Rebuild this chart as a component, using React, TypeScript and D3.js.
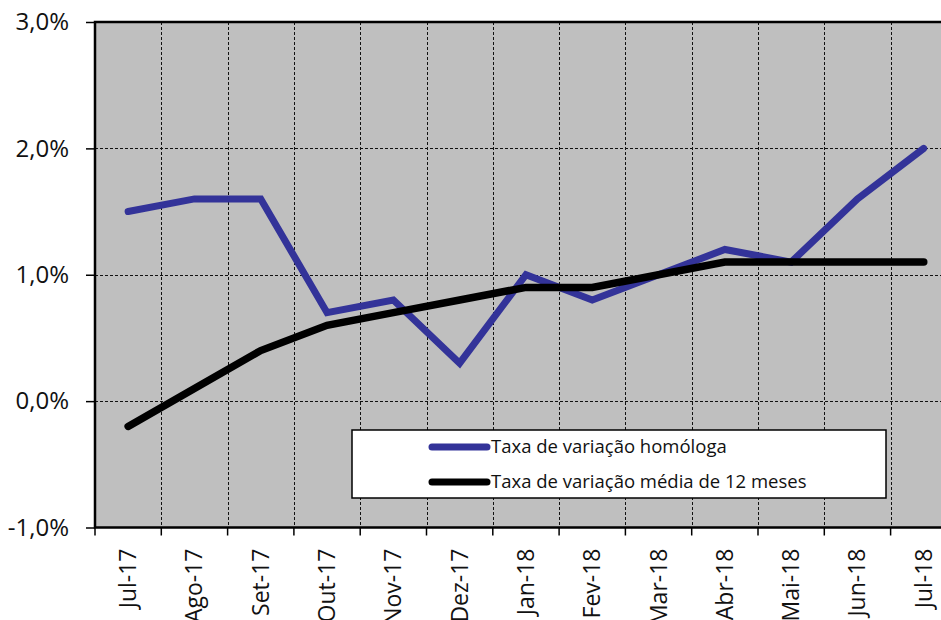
import * as d3 from 'd3';
import { useEffect, useRef } from 'react';

const months = ['Jul-17', 'Ago-17', 'Set-17', 'Out-17', 'Nov-17', 'Dez-17', 'Jan-18', 'Fev-18', 'Mar-18', 'Abr-18', 'Mai-18', 'Jun-18', 'Jul-18'];
const homologa = [1.5, 1.6, 1.6, 0.7, 0.8, 0.3, 1.0, 0.8, 1.0, 1.2, 1.1, 1.6, 2.0];
const media12 = [-0.2, 0.1, 0.4, 0.6, 0.7, 0.8, 0.9, 0.9, 1.0, 1.1, 1.1, 1.1, 1.1];
const yTicks = [-1, 0, 1, 2, 3];
const seriesNames = ['Taxa de variação homóloga', 'Taxa de variação média de 12 meses'];

const W = 941;
const H = 620;
const FONT = '"Open Sans", Lato, sans-serif';

const App = () => {
  const ref = useRef<SVGSVGElement>(null);

  useEffect(() => {
    const svg = d3.select(ref.current);
    svg.selectAll('*').remove();

    const left = 95;
    const top = 22;
    const bottom = 527.5;
    const band = 66.3;

    const x = d3.scaleBand<string>().domain(months).range([left, left + band * months.length]).padding(0);
    const y = d3.scaleLinear().domain([-1, 3]).range([bottom, top]);
    const right = left + band * months.length;

    // plot background
    svg.append('rect')
      .attr('x', left).attr('y', top)
      .attr('width', right - left).attr('height', bottom - top)
      .attr('fill', '#bfbfbf');

    // grid
    const grid = svg.append('g').attr('stroke', '#111').attr('stroke-width', 1).attr('stroke-dasharray', '3,2');
    months.slice(1).forEach((m) => {
      const gx = Math.round(x(m) as number) + 0.5;
      grid.append('line').attr('x1', gx).attr('x2', gx).attr('y1', top).attr('y2', bottom);
    });
    yTicks.slice(1, -1).forEach((t) => {
      const gy = Math.round(y(t)) + 0.5;
      grid.append('line').attr('x1', left).attr('x2', right).attr('y1', gy).attr('y2', gy);
    });

    // axes (hyphen minus, comma decimal)
    const yAxis = d3.axisLeft(y).tickValues(yTicks).tickSize(9).tickPadding(17)
      .tickFormat((d) => (d as number).toFixed(1).replace('.', ',') + '%');
    const ya = svg.append('g').attr('transform', `translate(${left},0)`).call(yAxis);
    ya.select('.domain').remove();
    ya.selectAll('line').attr('stroke', '#000').attr('stroke-width', 1.5);
    ya.selectAll('text').attr('font-family', FONT).attr('font-size', 24).attr('fill', '#111');

    const xa = svg.append('g').attr('transform', `translate(0,${bottom})`);
    months.forEach((m) => {
      const tx = x(m) as number;
      xa.append('line').attr('x1', tx).attr('x2', tx).attr('y1', 0).attr('y2', 8).attr('stroke', '#000').attr('stroke-width', 1.5);
    });
    xa.selectAll('text.lbl')
      .data(months)
      .enter()
      .append('text')
      .attr('class', 'lbl')
      .attr('transform', (d) => `translate(${(x(d) as number) + band / 2 + 8},21) rotate(-90)`)
      .attr('text-anchor', 'end')
      .attr('font-family', FONT)
      .attr('font-size', 23)
      .attr('fill', '#111')
      .text((d) => d);

    // plot border (left, top, bottom)
    svg.append('path')
      .attr('d', `M${right},${top}H${left}V${bottom}H${right}`)
      .attr('fill', 'none').attr('stroke', '#000').attr('stroke-width', 2.5);

    // lines
    const line = d3.line<number>()
      .x((_, i) => (x(months[i]) as number) + band / 2)
      .y((d) => y(d));

    svg.append('path').datum(homologa).attr('d', line)
      .attr('fill', 'none').attr('stroke', '#333399').attr('stroke-width', 7)
      .attr('stroke-linejoin', 'miter').attr('stroke-linecap', 'round');
    svg.append('path').datum(media12).attr('d', line)
      .attr('fill', 'none').attr('stroke', '#000').attr('stroke-width', 7.5)
      .attr('stroke-linejoin', 'miter').attr('stroke-linecap', 'round');

    // legend
    const lg = svg.append('g');
    lg.append('rect').attr('x', 352).attr('y', 430).attr('width', 534).attr('height', 68)
      .attr('fill', '#fff').attr('stroke', '#000').attr('stroke-width', 1.5);
    const colors = ['#333399', '#000'];
    seriesNames.forEach((name, i) => {
      const ly = 447 + i * 35;
      lg.append('line').attr('x1', 432).attr('x2', 487).attr('y1', ly).attr('y2', ly)
        .attr('stroke', colors[i]).attr('stroke-width', 7).attr('stroke-linecap', 'round');
      lg.append('text').attr('x', 491).attr('y', ly).attr('dy', '0.35em')
        .attr('font-family', FONT).attr('font-size', 18.5).attr('fill', '#111').text(name);
    });
  }, []);

  return (
    <svg ref={ref} width={W} height={H} style={{ position: 'absolute', left: 0, top: 0, background: '#fff' }} />
  );
};

export default App;
